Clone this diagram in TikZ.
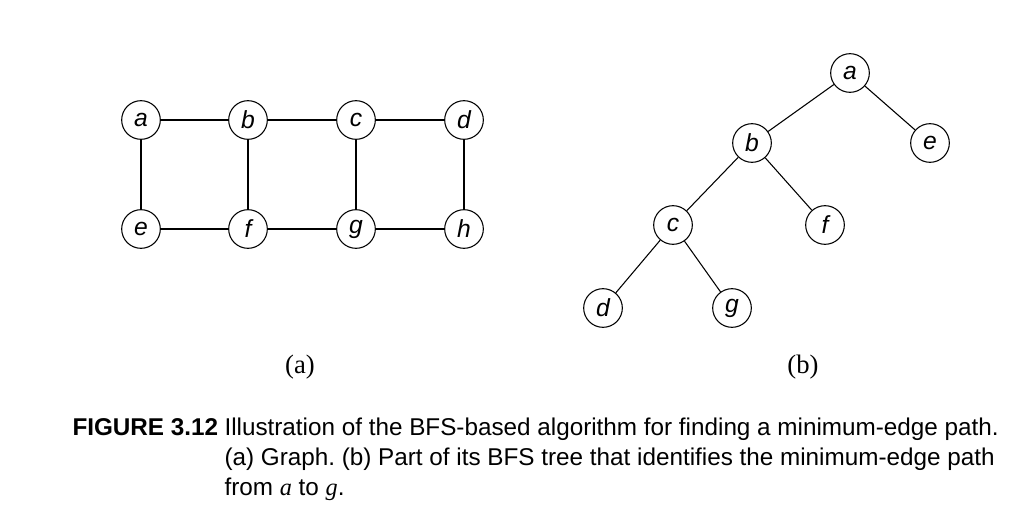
\documentclass[tikz,border=0pt]{standalone}
\usepackage{fontspec}
\setmainfont{Liberation Sans}
\newfontfamily\capfont{Liberation Sans}
\newfontfamily\tmfont{Liberation Serif}
\frenchspacing

\tikzset{every picture/.style={line width=0.75pt}}
\tikzset{
  vtx/.style={draw, circle, minimum size=29pt, inner sep=0pt, line width=0.8pt,
    font=\fontsize{18.5}{18.5}\selectfont\itshape},
  edg/.style={line width=0.8pt},
  sublbl/.style={font=\tmfont\fontsize{20}{20}\selectfont},
  capline/.style={anchor=base west, inner sep=0pt, font=\capfont\fontsize{18.2}{18.2}\selectfont}
}

\begin{document}
\begin{tikzpicture}[x=0.75pt,y=0.75pt,yscale=-1,xscale=1]
\path[use as bounding box] (0,0) rectangle (1030,531);

% Graph (a)
\node [vtx] (ga) at (141,120) {a};
\node [vtx] (gb) at (248,120) {b};
\node [vtx] (gc) at (356,120) {c};
\node [vtx] (gd) at (464,120) {d};
\node [vtx] (ge) at (141,229) {e};
\node [vtx] (gf) at (248,229) {f};
\node [vtx] (gg) at (356,229) {g};
\node [vtx] (gh) at (464,229) {h};

\draw [edg] (ga) -- (gb) (gb) -- (gc) (gc) -- (gd);
\draw [edg] (ge) -- (gf) (gf) -- (gg) (gg) -- (gh);
\draw [edg] (ga) -- (ge) (gb) -- (gf) (gc) -- (gg) (gd) -- (gh);

% BFS tree (b)
\node [vtx] (ta) at (850,73) {a};
\node [vtx] (tb) at (752,143) {b};
\node [vtx] (te) at (930,143) {e};
\node [vtx] (tc) at (673,225) {c};
\node [vtx] (tf) at (825,225) {f};
\node [vtx] (td) at (603,308) {d};
\node [vtx] (tg) at (732,308) {g};

\draw [edg] (ta) -- (tb) (ta) -- (te);
\draw [edg] (tb) -- (tc) (tb) -- (tf);
\draw [edg] (tc) -- (td) (tc) -- (tg);

% Text Node
\node [sublbl] (suba) at (300,367) {(a)};
% Text Node
\node [sublbl] (subb) at (803,367) {(b)};

% Caption
\node [capline] (cap0) at (72,435) {\bfseries FIGURE 3.12};
\node [capline] (cap1) at (224,435) {Illustration of the BFS-based algorithm for finding a minimum-edge path.};
\node [capline] (cap2) at (224,465) {(a) Graph. (b) Part of its BFS tree that identifies the minimum-edge path};
\node [capline] (cap3) at (224,495) {from {\tmfont\itshape a} to {\tmfont\itshape g}.};

\end{tikzpicture}
\end{document}
